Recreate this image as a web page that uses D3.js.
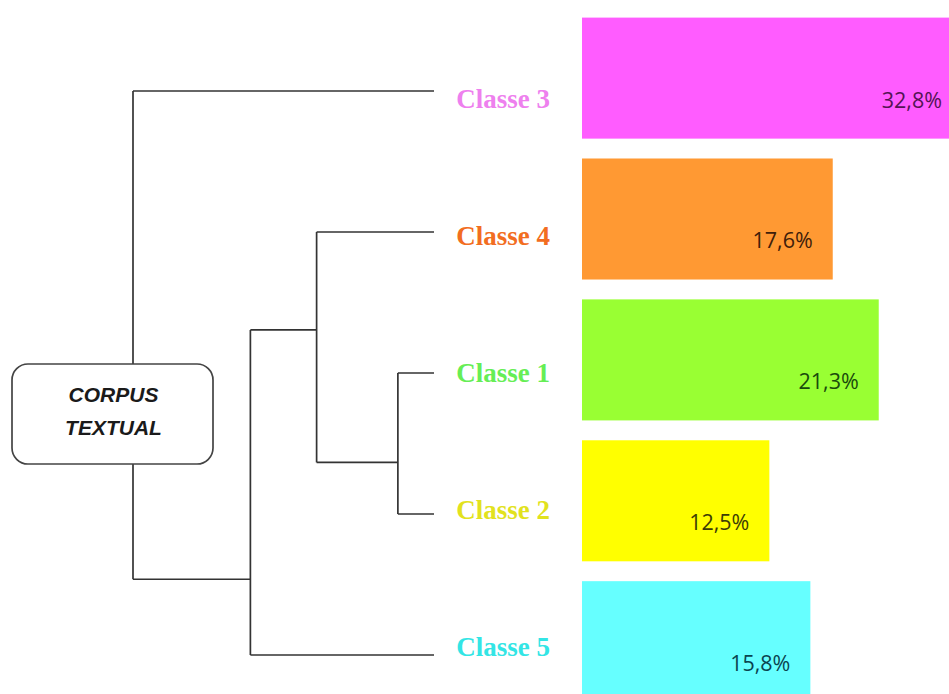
<!DOCTYPE html>
<html>
<head>
<meta charset="utf-8">
<script src="https://cdn.jsdelivr.net/npm/d3@7"></script>
<style>
  html, body { margin: 0; padding: 0; background: #ffffff; }
  svg { display: block; }
</style>
</head>
<body>
<svg id="chart" width="949" height="694"></svg>
<script>
// ---------- data ----------
const classes = ["Classe 3", "Classe 4", "Classe 1", "Classe 2", "Classe 5"];
const percents = [32.8, 17.6, 21.3, 12.5, 15.8];
const percentLabels = ["32,8%", "17,6%", "21,3%", "12,5%", "15,8%"];
const rootLabel = ["CORPUS", "TEXTUAL"];
// dendrogram merges (bottom-up): node id, its two children, merge height
const mergeIds = ["N1", "N2", "N3", "root"];
const mergeChildren = [["Classe 1", "Classe 2"], ["Classe 4", "N1"], ["N2", "Classe 5"], ["Classe 3", "N3"]];
const mergeHeights = [0.12, 0.39, 0.61, 1.0];

// ---------- styles ----------
const barColors = ["#ff5cff", "#ff9933", "#99ff33", "#ffff00", "#66ffff"];
const labelColors = ["#ee80ee", "#f26d21", "#66ee55", "#e2e21e", "#33e5e5"];
const pctColors = ["#541454", "#40200a", "#1a4a0c", "#3c3c06", "#0a4450"];
// position of each merge's junction between its upper and lower child (fraction)
const junctionFrac = { N1: 0.634, N2: 0.425, N3: 0.767 };

const svg = d3.select("#chart");

// ---------- hierarchy ----------
const rows = [];
mergeIds.forEach((id, i) => rows.push({ id, height: mergeHeights[i] }));
classes.forEach(c => rows.push({ id: c, height: 0 }));
const parentOf = {};
mergeChildren.forEach((kids, i) => kids.forEach(k => parentOf[k] = mergeIds[i]));
rows.forEach(r => r.parent = parentOf[r.id] || null);
const root = d3.stratify().id(d => d.id).parentId(d => d.parent)(rows);

// ---------- scales ----------
const xTree = d3.scaleLinear().domain([1, 0]).range([133, 434]);
const yLeaf = d3.scalePoint().domain(classes).range([91, 655]);
const yLabel = d3.scalePoint().domain(classes).range([108, 656]);
const yBar = d3.scaleBand().domain(classes).range([17.6, 702.2]).paddingInner(0.141);
const xBar = d3.scaleLinear().domain([0, 28]).range([614, 962]).clamp(true);
const barX0 = 582;

// compute node positions
root.eachAfter(n => {
  n.px = xTree(n.data.height);
  if (!n.children) {
    n.py = yLeaf(n.id);
  } else if (n.id !== "root") {
    const ys = n.children.map(c => c.py);
    const a = d3.min(ys), b = d3.max(ys);
    n.py = a + (b - a) * junctionFrac[n.id];
  }
});

const lineColor = "#333333";
const g = svg.append("g").attr("fill", "none").attr("stroke", lineColor).attr("stroke-width", 1.7);

// elbow links
root.each(n => {
  if (!n.children) return;
  const ys = n.children.map(c => c.py);
  g.append("line")
    .attr("x1", n.px).attr("x2", n.px)
    .attr("y1", d3.min(ys)).attr("y2", d3.max(ys));
  n.children.forEach(c => {
    g.append("line")
      .attr("x1", n.px).attr("x2", c.px)
      .attr("y1", c.py).attr("y2", c.py);
  });
});

// root box
const box = { x: 12, y: 364, w: 201, h: 100 };
svg.append("rect")
  .attr("x", box.x).attr("y", box.y)
  .attr("width", box.w).attr("height", box.h)
  .attr("rx", 16).attr("ry", 16)
  .attr("fill", "#ffffff").attr("stroke", "#444444").attr("stroke-width", 1.7);
svg.append("g").selectAll("text").data(rootLabel).join("text")
  .attr("x", box.x + box.w / 2 + 1)
  .attr("y", (d, i) => 402 + i * 33)
  .attr("text-anchor", "middle")
  .attr("font-family", "Liberation Sans, Arial, sans-serif")
  .attr("font-weight", "bold")
  .attr("font-style", "italic")
  .attr("font-size", 21)
  .attr("fill", "#1a1a1a")
  .text(d => d);

// class labels
svg.append("g").selectAll("text").data(classes).join("text")
  .attr("x", 550)
  .attr("y", d => yLabel(d))
  .attr("text-anchor", "end")
  .attr("font-family", "Liberation Serif, 'Times New Roman', serif")
  .attr("font-weight", "bold")
  .attr("font-size", 27)
  .attr("fill", (d, i) => labelColors[i])
  .text(d => d);

// bars
svg.append("g").selectAll("rect").data(classes).join("rect")
  .attr("x", barX0)
  .attr("y", d => yBar(d))
  .attr("width", (d, i) => xBar(percents[i]) - barX0)
  .attr("height", yBar.bandwidth())
  .attr("fill", (d, i) => barColors[i]);

// percentage labels
svg.append("g").selectAll("text").data(classes).join("text")
  .attr("x", (d, i) => xBar(percents[i]) - 20)
  .attr("y", d => yBar(d) + 90)
  .attr("text-anchor", "end")
  .attr("font-family", "'Open Sans', sans-serif")
  .attr("font-size", 21.5)
  .attr("fill", (d, i) => pctColors[i])
  .text((d, i) => percentLabels[i]);
</script>
</body>
</html>
